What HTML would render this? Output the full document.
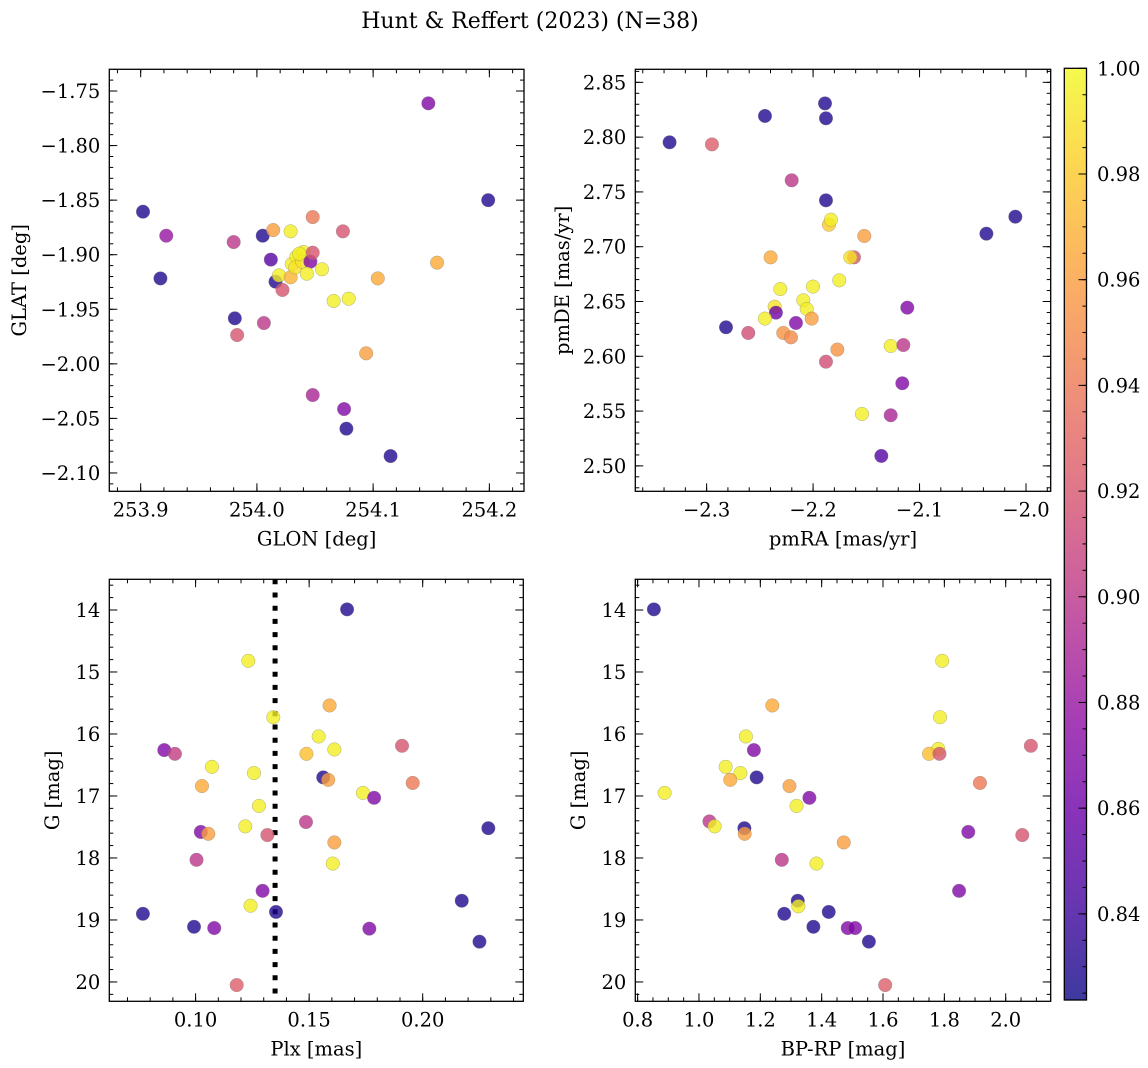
<!DOCTYPE html>
<html><head><meta charset="utf-8"><title>Hunt & Reffert (2023)</title>
<style>
html,body{margin:0;padding:0;background:#fff;}
svg{display:block;font-family:"DejaVu Serif","Liberation Serif",serif;}
</style></head>
<body>
<svg id="fig" width="1148" height="1068" viewBox="0 0 1148 1068" xmlns="http://www.w3.org/2000/svg">
<text x="530" y="28" text-anchor="middle" font-size="22">Hunt &amp; Reffert (2023) (N=38)</text>
</svg>
<script>
// ---- data ----
const p1Glon=[254.1475,254.199,253.902,253.922,253.917,253.980,254.005,254.014,254.029,254.048,254.074,254.012,254.016,254.019,254.022,254.029,254.030,254.034,254.033,254.040,254.039,254.046,254.048,254.043,254.056,254.066,254.079,254.104,254.155,253.981,253.983,254.006,254.094,254.048,254.075,254.077,254.115,254.0365];
const p1Glat=[-1.7613,-1.850,-1.8606,-1.8826,-1.9217,-1.8884,-1.8826,-1.8774,-1.8786,-1.8655,-1.8786,-1.9045,-1.9247,-1.9189,-1.9323,-1.9207,-1.9085,-1.9018,-1.9116,-1.8975,-1.9064,-1.9064,-1.8981,-1.9174,-1.9134,-1.9424,-1.9403,-1.9217,-1.9073,-1.9583,-1.9736,-1.9626,-1.9904,-2.0286,-2.0414,-2.0594,-2.0845,-1.8990];
const p1Prob=[0.87,0.83,0.83,0.88,0.83,0.90,0.83,0.96,0.995,0.94,0.92,0.85,0.83,0.995,0.92,0.97,0.995,0.995,0.99,0.995,0.99,0.87,0.92,0.995,0.995,0.995,0.995,0.965,0.965,0.83,0.92,0.90,0.96,0.89,0.87,0.83,0.83,0.995];

const p2PmRA=[-2.3348,-2.2950,-2.2452,-2.1888,-2.1879,-2.2201,-2.1879,-2.0100,-2.0372,-2.1851,-2.1832,-2.1519,-2.2399,-2.1616,-2.1650,-2.1754,-2.2308,-2.2001,-2.2092,-2.2060,-2.2361,-2.2349,-2.2452,-2.2013,-2.2161,-2.2818,-2.2609,-2.2280,-2.2208,-2.1115,-2.1271,-2.1152,-2.1772,-2.1879,-2.1162,-2.1541,-2.1271,-2.1359];
const p2PmDE=[2.7953,2.7934,2.8193,2.8308,2.8172,2.7606,2.7423,2.7274,2.7119,2.7201,2.7247,2.7098,2.6903,2.6903,2.6903,2.6693,2.6614,2.6636,2.6511,2.6432,2.6453,2.6398,2.6344,2.6344,2.6304,2.6265,2.6213,2.6213,2.6173,2.6444,2.6094,2.6103,2.6061,2.5951,2.5754,2.5474,2.5462,2.5091];
const p2Prob=[0.83,0.925,0.83,0.83,0.83,0.90,0.83,0.83,0.83,0.98,0.995,0.96,0.965,0.92,0.99,0.995,0.995,0.995,0.995,0.995,0.99,0.86,0.995,0.96,0.87,0.83,0.915,0.955,0.95,0.87,0.995,0.90,0.955,0.915,0.87,0.995,0.89,0.85];

const starPlx=[0.1667,0.1232,0.1342,0.1590,0.1542,0.1611,0.1488,0.1909,0.0862,0.0909,0.1072,0.1257,0.1028,0.1562,0.1584,0.1956,0.1737,0.1786,0.1279,0.1219,0.1486,0.1023,0.1056,0.1316,0.2289,0.1611,0.1004,0.1604,0.1295,0.1242,0.2172,0.1354,0.0768,0.0993,0.1082,0.1765,0.2250,0.1181];
const starG=[13.99,14.82,15.73,15.54,16.04,16.25,16.32,16.19,16.26,16.32,16.53,16.63,16.84,16.70,16.74,16.79,16.95,17.03,17.16,17.49,17.42,17.58,17.61,17.63,17.52,17.75,18.03,18.09,18.53,18.77,18.69,18.87,18.90,19.11,19.13,19.14,19.35,20.05];
const starProb=[0.83,0.995,0.995,0.965,0.995,0.995,0.975,0.92,0.87,0.905,0.995,0.995,0.965,0.83,0.96,0.94,0.995,0.87,0.995,0.995,0.90,0.87,0.96,0.92,0.83,0.96,0.90,0.995,0.87,0.995,0.83,0.83,0.83,0.83,0.87,0.87,0.83,0.925];
const p4G=[13.99,14.82,15.73,15.54,16.04,16.26,16.24,16.32,16.32,16.19,16.53,16.63,16.74,16.70,16.84,16.79,16.95,17.03,17.16,17.41,17.49,17.52,17.61,17.58,17.63,17.75,18.03,18.09,18.53,18.69,18.78,18.87,18.90,19.11,19.13,19.13,19.35,20.05];
const p4BpRp=[0.853,1.793,1.786,1.239,1.153,1.179,1.780,1.750,1.784,2.082,1.087,1.135,1.102,1.188,1.295,1.916,0.888,1.360,1.318,1.034,1.051,1.148,1.149,1.878,2.054,1.472,1.270,1.383,1.848,1.322,1.324,1.423,1.278,1.373,1.485,1.509,1.554,1.607];
const p4Prob=[0.83,0.995,0.995,0.965,0.995,0.87,0.995,0.975,0.92,0.92,0.995,0.995,0.965,0.83,0.96,0.94,0.995,0.87,0.995,0.90,0.995,0.83,0.96,0.87,0.92,0.96,0.90,0.995,0.87,0.83,0.995,0.83,0.83,0.83,0.87,0.87,0.83,0.925];
const plxLine=0.135;
const cbTicks=[0.84,0.86,0.88,0.90,0.92,0.94,0.96,0.98,1.00];
const vmin=0.8237, vmax=1.0;

// ---- helpers ----
const NS='http://www.w3.org/2000/svg';
const svg=document.getElementById('fig');
const FS=19.5;
function mk(tag,attrs,parent){const e=document.createElementNS(NS,tag);for(const k in attrs)e.setAttribute(k,attrs[k]);(parent||svg).appendChild(e);return e;}
const stops=['#0d0887','#41049d','#6a00a8','#8f0da4','#b12a90','#cc4778','#e16462','#f2844b','#fca636','#fcce25','#f0f921'];
function hx(c){return [parseInt(c.substr(1,2),16),parseInt(c.substr(3,2),16),parseInt(c.substr(5,2),16)];}
function plasma(t){t=Math.max(0,Math.min(1,t));const f=t*10,i=Math.min(9,Math.floor(f)),r=f-i;const a=hx(stops[i]),b=hx(stops[i+1]);return 'rgb('+a.map((v,k)=>Math.round(v+(b[k]-v)*r)).join(',')+')';}
function pcol(p){return plasma((p-vmin)/(vmax-vmin));}
function fmt(v,d){const s=Math.abs(v).toFixed(d);return (v<-1e-9?'\u2212':'')+s;}

function panel(o){
  const g=mk('g',{});
  
  
  const L=o.x0,R=o.x1,T=o.y0,B=o.y1;
  const sx=v=>L+(v-o.xmin)/(o.xmax-o.xmin)*(R-L);
  const sy=o.yinv? (v=>T+(v-o.ymin)/(o.ymax-o.ymin)*(B-T)) : (v=>B-(v-o.ymin)/(o.ymax-o.ymin)*(B-T));
  const tg=mk('g',{stroke:'#000','stroke-width':1},g);
  const eps=1e-9;
  function ticks(min,max,step){const out=[];const s=Math.ceil((Math.min(min,max)-eps)/step);for(let k=s;k*step<=Math.max(min,max)+eps;k++)out.push(k*step);return out;}
  ticks(o.xmin,o.xmax,o.xminor).forEach(v=>{const x=sx(v);mk('line',{x1:x,x2:x,y1:B,y2:B-4},tg);mk('line',{x1:x,x2:x,y1:T,y2:T+4},tg);});
  ticks(o.ymin,o.ymax,o.yminor).forEach(v=>{const y=sy(v);mk('line',{x1:L,x2:L+4,y1:y,y2:y},tg);mk('line',{x1:R,x2:R-4,y1:y,y2:y},tg);});
  ticks(o.xmin,o.xmax,o.xmajor).forEach(v=>{const x=sx(v);mk('line',{x1:x,x2:x,y1:B,y2:B-8},tg);mk('line',{x1:x,x2:x,y1:T,y2:T+8},tg);
    const t=mk('text',{x:x,y:B+25,'text-anchor':'middle','font-size':FS,stroke:'none',fill:'#000'},g);t.textContent=fmt(v,o.xd);
    
    });
  ticks(o.ymin,o.ymax,o.ymajor).forEach(v=>{const y=sy(v);mk('line',{x1:L,x2:L+8,y1:y,y2:y},tg);mk('line',{x1:R,x2:R-8,y1:y,y2:y},tg);
    const t=mk('text',{x:L-9,y:y+7,'text-anchor':'end','font-size':FS,fill:'#000'},g);t.textContent=fmt(v,o.yd);
    
    });
  if(o.vline!==undefined){const vl=mk('line',{x1:sx(o.vline),x2:sx(o.vline),y1:T,y2:B,stroke:'#000','stroke-width':5,'stroke-dasharray':'5,8.2'},g);
    
    }
  const pg=mk('g',{},g);
  
  
  for(let i=0;i<o.xs.length;i++){
    const c=mk('circle',{cx:sx(o.xs[i]),cy:sy(o.ys[i]),r:6.8,fill:pcol(o.ps[i]),'fill-opacity':0.8,stroke:'#808080','stroke-opacity':0.6,'stroke-width':0.5},pg);
    
    
  }
  const fr=mk('rect',{x:L,y:T,width:R-L,height:B-T,fill:'none',stroke:'#000','stroke-width':1.3},g);
  
  
  const xl=mk('text',{x:(L+R)/2,y:B+54,'text-anchor':'middle','font-size':FS},g);xl.textContent=o.xlabel;
  
  
  const yx=o.ylx, yy=(T+B)/2;
  const yl=mk('text',{x:yx,y:yy,'text-anchor':'middle','font-size':FS,transform:'rotate(-90 '+yx+' '+yy+')'},g);yl.textContent=o.ylabel;
  
  
}

panel({name:'position-panel',x0:109.3,x1:524,y0:69.3,y1:491.3,xmin:253.873,xmax:254.2298,ymin:-2.1168,ymax:-1.7301,yinv:false,
  xmajor:0.1,xminor:0.02,ymajor:0.05,yminor:0.01,xd:1,yd:2,xs:p1Glon,ys:p1Glat,ps:p1Prob,xlabel:'GLON [deg]',ylabel:'GLAT [deg]',ylx:26});
panel({name:'proper-motion-panel',x0:635.3,x1:1050.7,y0:69.3,y1:491.3,xmin:-2.3670,xmax:-1.9768,ymin:2.4768,ymax:2.8619,yinv:false,
  xmajor:0.1,xminor:0.02,ymajor:0.05,yminor:0.01,xd:1,yd:2,xs:p2PmRA,ys:p2PmDE,ps:p2Prob,xlabel:'pmRA [mas/yr]',ylabel:'pmDE [mas/yr]',ylx:569});
panel({name:'parallax-panel',x0:109.3,x1:523.3,y0:579.3,y1:1001.3,xmin:0.0620,xmax:0.2443,ymin:13.505,ymax:20.312,yinv:true,
  xmajor:0.05,xminor:0.01,ymajor:1,yminor:0.2,xd:2,yd:0,xs:starPlx,ys:starG,ps:starProb,xlabel:'Plx [mas]',ylabel:'G [mag]',ylx:59,vline:plxLine});
panel({name:'cmd-panel',x0:635.3,x1:1050.7,y0:579.3,y1:1001.3,xmin:0.7924,xmax:2.1467,ymin:13.505,ymax:20.312,yinv:true,
  xmajor:0.2,xminor:0.05,ymajor:1,yminor:0.2,xd:1,yd:0,xs:p4BpRp,ys:p4G,ps:p4Prob,xlabel:'BP-RP [mag]',ylabel:'G [mag]',ylx:585});

// colorbar
const cb=mk('g',{});


const defs=mk('defs',{},cb);
const lg=mk('linearGradient',{id:'cbg',x1:0,y1:1,x2:0,y2:0},defs);
for(let i=0;i<=20;i++){mk('stop',{offset:(i/20),'stop-color':plasma(i/20),'stop-opacity':0.8},lg);}
const CL=1064.3,CR=1086.5,CT=68.3,CB=1000;
mk('rect',{x:CL,y:CT,width:CR-CL,height:CB-CT,fill:'url(#cbg)'},cb);
const cy=v=>CB-(v-vmin)/(vmax-vmin)*(CB-CT);
for(let k=Math.ceil(vmin/0.005);k*0.005<=vmax+1e-9;k++){const y=cy(k*0.005);mk('line',{x1:CR,x2:CR-4,y1:y,y2:y,stroke:'#000'},cb);}
cbTicks.forEach(v=>{const y=cy(v);mk('line',{x1:CR,x2:CR-8,y1:y,y2:y,stroke:'#000'},cb);
  const t=mk('text',{x:1097,y:y+7,'font-size':FS},cb);t.textContent=v.toFixed(2);
  
  });
mk('rect',{x:CL,y:CT,width:CR-CL,height:CB-CT,fill:'none',stroke:'#000','stroke-width':1.3},cb);
</script>
</body></html>
